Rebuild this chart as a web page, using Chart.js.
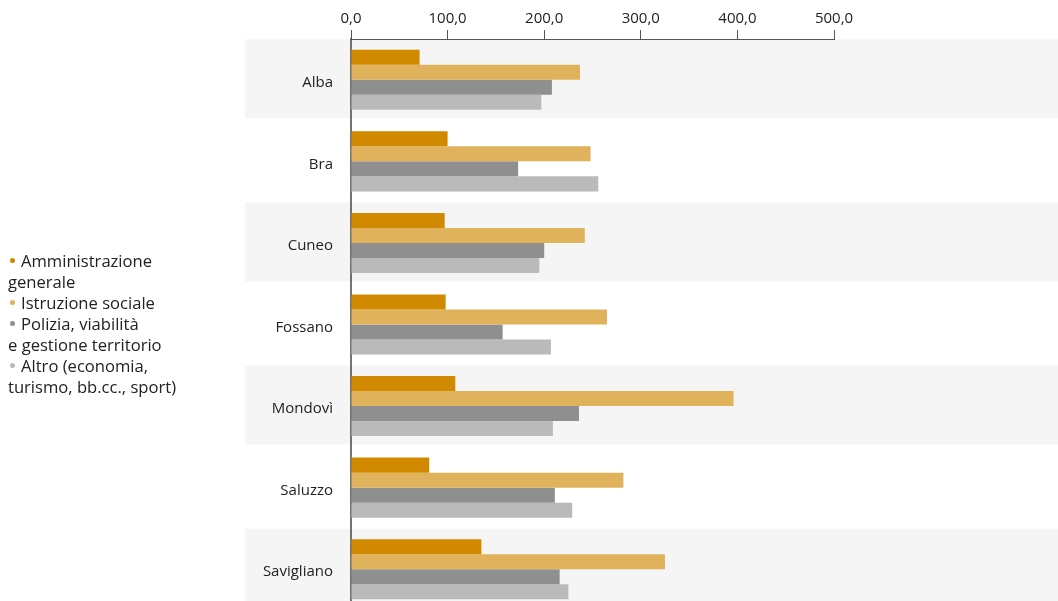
<!DOCTYPE html>
<html>
<head>
<meta charset="utf-8">
<script src="https://cdn.jsdelivr.net/npm/chart.js@4"></script>
<style>
  html, body { margin: 0; padding: 0; background: #fff; overflow: hidden; width: 1058px; height: 601px; }
  #chart { position: absolute; left: 0; top: 0; }
  #legend { position: absolute; left: 8px; top: 250px; font-family: 'Open Sans', sans-serif; font-size: 16.6px; line-height: 21px; color: #222; white-space: nowrap; }
  .dot { display: inline-block; width: 5px; height: 5px; border-radius: 50%; margin: 0 6px 0 2px; vertical-align: middle; position: relative; top: -2px; }
</style>
</head>
<body>
<canvas id="chart" width="1058" height="610"></canvas>
<div id="legend"></div>
<script>
// --- DATI ---
const comuni = ['Alba', 'Bra', 'Cuneo', 'Fossano', 'Mondovì', 'Saluzzo', 'Savigliano'];
const amministrazione = [71, 100, 97, 98, 108, 81, 135];
const istruzione = [237, 248, 242, 265, 396, 282, 325];
const polizia = [208, 173, 200, 157, 236, 211, 216];
const altro = [197, 256, 195, 207, 209, 229, 225];
const xTicks = [0, 100, 200, 300, 400, 500];

const seriesNames = ['Amministrazione\ngenerale', 'Istruzione sociale', 'Polizia, viabilità\ne gestione territorio', 'Altro (economia,\nturismo, bb.cc., sport)'];
const colors = ['#d18a00', '#e0b25b', '#8f8f8f', '#bababa'];

// legenda a sinistra (testo con a capo come nell'originale)
const legendEl = document.getElementById('legend');
seriesNames.forEach((name, i) => {
    const lines = name.split('\n');
    const div = document.createElement('div');
    div.innerHTML = `<span class="dot" style="background:${colors[i]}"></span>` + lines.join('<br>');
    legendEl.appendChild(div);
});

// fasce grigie alternate dietro le categorie
const bandsPlugin = {
    id: 'bands',
    beforeDraw(chart) {
        const { ctx } = chart;
        const y = chart.scales.y;
        ctx.save();
        ctx.fillStyle = '#f5f5f5';
        comuni.forEach((c, i) => {
            if (i % 2 !== 0) return;
            const cy = y.getPixelForValue(i);
            ctx.fillRect(245, cy - 40.5, chart.width - 245, 79);
        });
        ctx.restore();
    }
};

const fmt = v => v.toFixed(1).replace('.', ',');

new Chart(document.getElementById('chart'), {
    type: 'bar',
    data: {
        labels: comuni,
        datasets: [
            { label: 'Amministrazione generale', data: amministrazione, backgroundColor: colors[0] },
            { label: 'Istruzione sociale', data: istruzione, backgroundColor: colors[1] },
            { label: 'Polizia, viabilità e gestione territorio', data: polizia, backgroundColor: colors[2] },
            { label: 'Altro (economia, turismo, bb.cc., sport)', data: altro, backgroundColor: colors[3] }
        ]
    },
    options: {
        indexAxis: 'y',
        responsive: false,
        animation: false,
        layout: { autoPadding: false, padding: { left: 0, right: 224, top: 0, bottom: 0 } },
        datasets: { bar: { categoryPercentage: 0.736, barPercentage: 1.0 } },
        plugins: {
            legend: { display: false },
            tooltip: { enabled: false }
        },
        scales: {
            x: {
                position: 'top',
                min: 0,
                max: 500,
                afterBuildTicks: scale => { scale.ticks = xTicks.map(v => ({ value: v })); },
                afterFit: scale => { scale.height = 39; },
                ticks: {
                    callback: v => fmt(v),
                    color: '#222',
                    padding: 2,
                    font: { family: "'Open Sans', sans-serif", size: 15 }
                },
                grid: { drawOnChartArea: false, drawTicks: true, tickLength: 9, color: '#555' },
                border: { display: true, color: '#555', width: 1 }
            },
            y: {
                z: 1,
                afterFit: scale => {
                    scale.width = 351;
                    scale.paddingTop = 0;
                    scale.paddingBottom = 0;
                },
                ticks: {
                    color: '#222',
                    padding: 18,
                    labelOffset: 3,
                    font: { family: "'Open Sans', sans-serif", size: 15 }
                },
                grid: { drawOnChartArea: false, drawTicks: false },
                border: { display: true, color: 'rgba(70,70,70,0.75)', width: 2 }
            }
        }
    },
    plugins: [bandsPlugin]
});
</script>
</body>
</html>
